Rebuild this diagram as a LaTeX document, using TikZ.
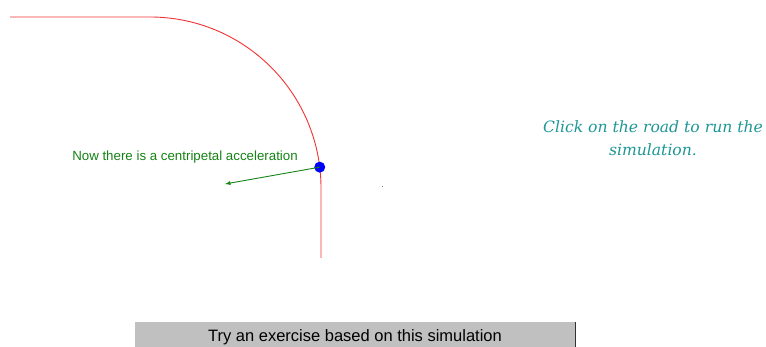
\documentclass[tikz,border=0pt]{standalone}
\usepackage{fontspec}
\setmainfont{Liberation Sans}
\newfontfamily\notefont{DejaVu Serif}
\usetikzlibrary{arrows,calc}
\definecolor{roadred}{RGB}{240,50,50}
\definecolor{accgreen}{RGB}{20,130,20}
\definecolor{noteteal}{RGB}{30,150,150}
\definecolor{btngray}{RGB}{192,192,192}

\begin{document}
\begin{tikzpicture}[x=1pt, y=1pt,
    road/.style={draw=roadred, line width=0.9pt},
    acc/.style={->, >=latex, draw=accgreen, line width=0.9pt},
    lbl/.style={font=\fontsize{13.3}{15}\selectfont, text=accgreen, inner sep=0pt},
    note/.style={font=\notefont\itshape\fontsize{15.6}{23}\selectfont, text=noteteal, align=center, inner sep=0pt},
    btn/.style={rectangle, fill=btngray, minimum width=440, minimum height=25, inner sep=0pt, text height=18pt, text depth=3pt, font=\fontsize{16.5}{18}\selectfont}
]
\useasboundingbox (0,0) rectangle (766,-347);
% --- Road: straight, quarter turn, straight ---
\coordinate (start) at (10,-17);
\coordinate (bend) at (150,-17);
\coordinate (ctr) at (150,-188);
\coordinate (stop) at (321,-258);
\draw[road] (start) -- (bend) arc[start angle=90, end angle=0, radius=171] -- (stop);

% --- Car and its acceleration ---
\node[circle, fill=blue, inner sep=0pt, minimum size=11] (car) at ($(ctr)+(7:171)$) {};
\coordinate (tip) at (225,-184);
\draw[acc] (car.center) -- (tip);
\node[lbl] (acclbl) at (185,-157) {Now there is a centripetal acceleration};
\fill[gray] (381.5,-187.5) rectangle (382.5,-186.5);

% --- Hint ---
\node[note] (hint) at (653,-138) {Click on the road to run the\\simulation.};

% --- Button ---
\node[btn] (exercise) at (355,-334.5) {Try an exercise based on this simulation};
\draw[black!80, line width=1pt] (exercise.north east) -- (exercise.south east);
\end{tikzpicture}
\end{document}
